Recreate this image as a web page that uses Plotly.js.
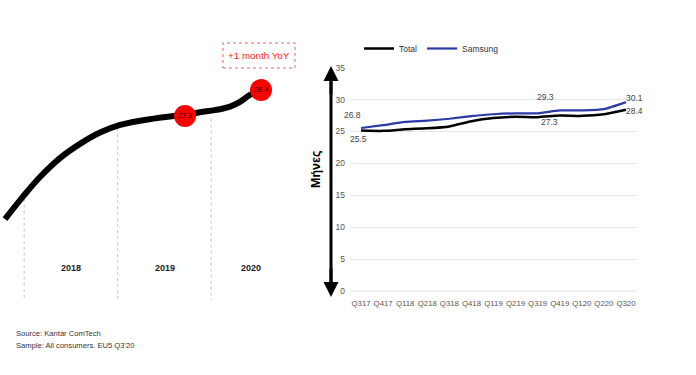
<!DOCTYPE html>
<html><head><meta charset="utf-8">
<script src="https://cdn.plot.ly/plotly-3.0.1.min.js"></script>
<style>html,body{margin:0;padding:0;background:#fff}#chart{width:696px;height:375px}</style>
</head><body><div id="chart"></div>
<script>
// ---- Right chart data ----
const quarters = ['Q317','Q417','Q118','Q218','Q318','Q418','Q119','Q219','Q319','Q419','Q120','Q220','Q320'];
const totalMonths = [25.15,25.1,25.35,25.5,25.8,26.6,27.1,27.3,27.25,27.5,27.45,27.7,28.4];
const samsungMonths = [25.55,26.0,26.5,26.7,27.0,27.4,27.7,27.85,27.85,28.3,28.3,28.5,29.6];
const labelIdx = [0, 8, 12];
const totalLabels = ['25.5','27.3','28.4'];
const samsungLabels = ['26.8','29.3','30.1'];
const yTicks = [0,5,10,15,20,25,30,35];

// ---- Left illustration data (years vs months) ----
const trendYears = [2017.795,2017.987,2018.169,2018.383,2018.597,2018.811,2019.025,2019.239,2019.560,2019.720,2019.881,2020.041,2020.201,2020.308,2020.415,2020.533];
const trendMonths = [22.94,23.89,24.72,25.52,26.12,26.60,26.92,27.10,27.28,27.34,27.46,27.55,27.70,27.90,28.19,28.38];
const dotYears = [2019.72, 2020.533];
const dotMonths = [27.3, 28.4];
const dotLabels = ['27.3','28.4'];
const yearBounds = [2018, 2019, 2020];
const yearBoundTops = [23.8, 26.79, 27.19];
const yearBottom = 19.52;
const yearLabels = ['2018','2019','2020'];
const yearLabelYears = [2018.497, 2019.507, 2020.427];

const W = 696, H = 375;
const px = x => x / W, py = y => 1 - y / H;
const FONT = "'Liberation Sans', Arial, sans-serif";

const bx = [], by = [];
yearBounds.forEach((b, i) => { bx.push(b, b, null); by.push(yearBoundTops[i], yearBottom, null); });

const traces = [
  {x: bx, y: by, xaxis: 'x2', yaxis: 'y2', mode: 'lines', showlegend: false, hoverinfo: 'skip',
   line: {color: '#c4c4c4', width: 1, dash: 'dot'}},
  {x: trendYears, y: trendMonths, xaxis: 'x2', yaxis: 'y2', mode: 'lines', showlegend: false,
   line: {color: '#000', width: 6, shape: 'spline', smoothing: 1}},
  {x: dotYears, y: dotMonths, text: dotLabels, xaxis: 'x2', yaxis: 'y2', mode: 'markers+text', showlegend: false,
   marker: {color: '#ff0000', size: 22}, textposition: 'middle center', cliponaxis: false,
   textfont: {family: FONT, size: 7.5, color: '#000'}},
  {x: quarters, y: totalMonths, name: 'Total', mode: 'lines', line: {color: '#000', width: 2.5, shape: 'spline', smoothing: 0.6}},
  {x: quarters, y: samsungMonths, name: 'Samsung', mode: 'lines', line: {color: '#2b3aa5', width: 2.2, shape: 'spline', smoothing: 0.6}}
];

const totalShift = [[-3,-8.5],[12,-4.5],[8.5,-1.5]];
const samsungShift = [[-9,13],[7.5,16.6],[8.5,4]];
const LBL = {family: FONT, size: 8.5, color: '#444'};
const annotations = [];
labelIdx.forEach((k, i) => {
  annotations.push({x: quarters[k], y: totalMonths[k], text: totalLabels[i], showarrow: false,
    xshift: totalShift[i][0], yshift: totalShift[i][1], font: LBL});
  annotations.push({x: quarters[k], y: samsungMonths[k], text: samsungLabels[i], showarrow: false,
    xshift: samsungShift[i][0], yshift: samsungShift[i][1], font: LBL});
});
yearLabels.forEach((t, i) => {
  annotations.push({x: yearLabelYears[i], y: 20.87, xref: 'x2', yref: 'y2', text: '<b>' + t + '</b>', showarrow: false,
    xanchor: 'center', yanchor: 'middle', font: {family: FONT, size: 9, color: '#222'}});
});
annotations.push({x: px(259), y: py(55.5), xref: 'paper', yref: 'paper', xanchor: 'center', yanchor: 'middle',
  text: '+1 month YoY', showarrow: false, font: {family: FONT, size: 9.8, color: '#ff1a1a'}});
annotations.push({x: px(316), y: py(170), xref: 'paper', yref: 'paper', xanchor: 'center', yanchor: 'middle',
  text: '<b>Μήνες</b>', textangle: -90, showarrow: false, font: {family: FONT, size: 12.5, color: '#000'}});
annotations.push({x: px(331), y: py(66), xref: 'paper', yref: 'paper', text: '', showarrow: true, ax: 0, ay: 30,
  arrowhead: 2, arrowsize: 1, arrowwidth: 3, arrowcolor: '#000', standoff: 0});
annotations.push({x: px(331), y: py(297), xref: 'paper', yref: 'paper', text: '', showarrow: true, ax: 0, ay: -30,
  arrowhead: 2, arrowsize: 1, arrowwidth: 3, arrowcolor: '#000', standoff: 0});
annotations.push({x: px(14), y: py(333), xref: 'paper', yref: 'paper', xanchor: 'left', yanchor: 'middle',
  text: 'Source: Kantar ComTech', showarrow: false, font: {family: FONT, size: 7.6, color: '#333'}});
annotations.push({x: px(14), y: py(345), xref: 'paper', yref: 'paper', xanchor: 'left', yanchor: 'middle',
  text: "Sample: All consumers. EU5 Q3'20", showarrow: false, font: {family: FONT, size: 7.6, color: '#333'}});

const layout = {
  width: W, height: H,
  margin: {l: 0, r: 0, t: 0, b: 0},
  paper_bgcolor: '#fff', plot_bgcolor: 'rgba(0,0,0,0)',
  font: {family: FONT, size: 8, color: '#555'},
  showlegend: true,
  legend: {orientation: 'h', x: px(359), y: py(34), xanchor: 'left', yanchor: 'top',
    font: {family: FONT, size: 8.5, color: '#333'}, itemwidth: 30, bgcolor: 'rgba(0,0,0,0)'},
  xaxis: {domain: [px(350), px(637)], range: [-0.5, 12.5], type: 'category', showgrid: false, zeroline: false,
    showline: false, ticks: '', tickangle: 0, ticklabelstandoff: 6,
    tickfont: {family: FONT, size: 7.8, color: '#555'}, automargin: false, fixedrange: true},
  yaxis: {domain: [py(291), py(67.7)], range: [0, 35], tickvals: yTicks, showgrid: true, gridcolor: '#e6e6e6', gridwidth: 1,
    zeroline: false, showline: false, ticks: '', ticklabelstandoff: 4,
    tickfont: {family: FONT, size: 8.5, color: '#555'}, automargin: false, fixedrange: true},
  xaxis2: {domain: [0, 0.45], range: [2017.7415, 2021.0912], visible: false, anchor: 'y2', fixedrange: true},
  yaxis2: {domain: [0, 1], range: [16.342, 32.208], visible: false, anchor: 'x2', fixedrange: true},
  shapes: [
    {type: 'line', xref: 'paper', yref: 'paper', x0: px(350), x1: px(637), y0: py(291), y1: py(291), line: {color: '#e6e6e6', width: 1}},
    {type: 'line', xref: 'paper', yref: 'paper', x0: px(331), x1: px(331), y0: py(72), y1: py(291), line: {color: '#000', width: 3}},
    {type: 'rect', xref: 'paper', yref: 'paper', x0: px(223), x1: px(295), y0: py(68), y1: py(43),
     line: {color: '#f26060', width: 1, dash: 'dot'}}
  ],
  annotations: annotations
};

Plotly.newPlot('chart', traces, layout, {displayModeBar: false, staticPlot: true});
</script>
</body></html>
